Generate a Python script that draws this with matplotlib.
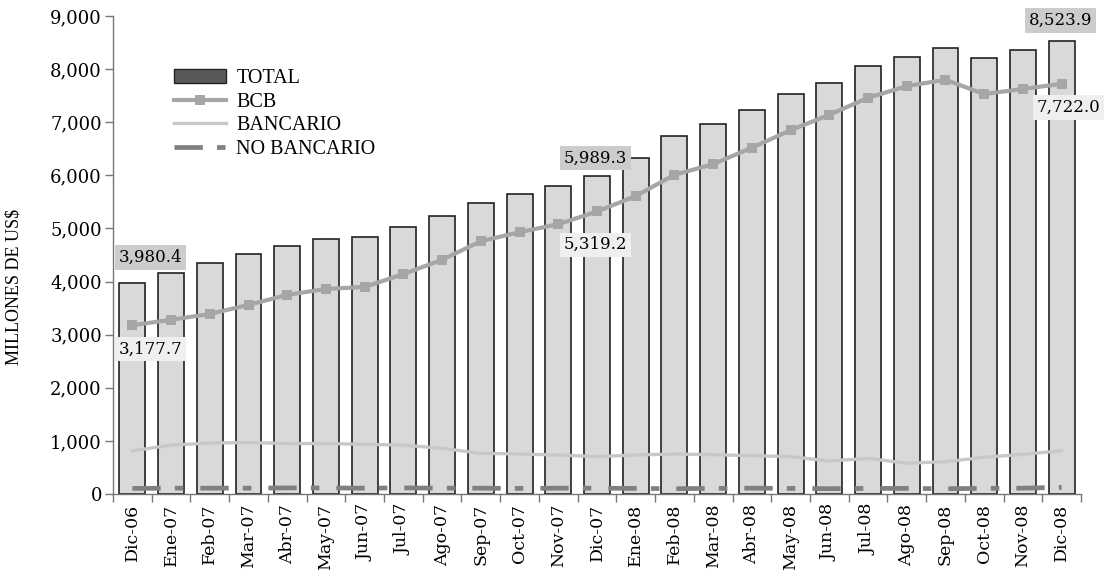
import matplotlib
matplotlib.use("Agg")
import matplotlib.pyplot as plt
from matplotlib.patches import Patch
from matplotlib.lines import Line2D
from matplotlib.ticker import FuncFormatter, FixedLocator
import numpy as np

## Data (millones de US$)
meses = ["Dic-06", "Ene-07", "Feb-07", "Mar-07", "Abr-07", "May-07", "Jun-07",
         "Jul-07", "Ago-07", "Sep-07", "Oct-07", "Nov-07", "Dic-07", "Ene-08",
         "Feb-08", "Mar-08", "Abr-08", "May-08", "Jun-08", "Jul-08", "Ago-08",
         "Sep-08", "Oct-08", "Nov-08", "Dic-08"]

total = [3980.4, 4160, 4350, 4520, 4670, 4800, 4840, 5030, 5235, 5480, 5650, 5800,
         5989.3, 6330, 6740, 6970, 7230, 7530, 7740, 8060, 8230, 8400, 8210, 8360,
         8523.9]
bcb = [3177.7, 3280, 3390, 3560, 3750, 3860, 3900, 4140, 4410, 4760, 4930, 5080,
       5319.2, 5610, 6010, 6210, 6520, 6850, 7140, 7460, 7680, 7800, 7530, 7627,
       7722.0]
bancario = [815, 920, 960, 970, 950, 950, 935, 920, 860, 766, 753, 735,
            703, 735, 753, 740, 722, 703, 621, 672, 578, 609, 691, 747, 815]
no_bancario = [105, 110, 110, 110, 115, 115, 110, 115, 110, 110, 105, 110,
               110, 105, 100, 105, 110, 105, 100, 105, 105, 100, 105, 110, 125]

## Which values get a label
etiquetas_total = [0, 12, 24]
etiquetas_bcb = [0, 12, 24]

plt.rcParams["font.family"] = "DejaVu Serif"
plt.rcParams["font.size"] = 12

fig = plt.figure(figsize=(11.05, 5.72), dpi=100)
ax = fig.add_axes([113 / 1105, 1 - 494 / 572, (1081 - 113) / 1105, (494 - 16) / 572])

x = np.arange(len(meses))

ax.bar(x, total, width=0.67, color="#d9d9d9", edgecolor="#222222", linewidth=1.2, zorder=2)
ax.plot(x, bancario, color="#c8c8c8", linewidth=2.4, zorder=3)
ax.plot(x, no_bancario, color="#808080", linewidth=3.4, dashes=(6, 3, 1.8, 3.6),
        solid_capstyle="butt", dash_capstyle="butt", zorder=3)
ax.plot(x, bcb, color="#a6a6a6", linewidth=3, marker="s", markersize=7,
        markeredgewidth=0, zorder=4)

## Value labels
off_total = {0: (13, 18), 12: (-1, 13), 24: (-1, 15)}
off_bcb = {0: (13, -17), 12: (-1, -24), 24: (5, -17)}
for i in etiquetas_total:
    ax.annotate(f"{total[i]:,.1f}", xy=(x[i], total[i]), xytext=off_total[i],
                textcoords="offset points", ha="center", va="center", fontsize=12,
                bbox=dict(boxstyle="square,pad=0.22", fc="#cccccc", ec="none"), zorder=6)
for i in etiquetas_bcb:
    ax.annotate(f"{bcb[i]:,.1f}", xy=(x[i], bcb[i]), xytext=off_bcb[i],
                textcoords="offset points", ha="center", va="center", fontsize=12,
                bbox=dict(boxstyle="square,pad=0.22", fc="#efefef", ec="none"), zorder=6)

## Axes
ax.set_xlim(-0.5, len(meses) - 0.5)
ax.set_ylim(0, 9000)
ax.set_yticks(np.arange(0, 9001, 1000))
ax.yaxis.set_major_formatter(FuncFormatter(lambda v, p: f"{v:,.0f}"))
ax.set_xticks(x)
ax.set_xticklabels(meses, rotation=90)
ax.xaxis.set_minor_locator(FixedLocator(np.arange(-0.5, len(meses), 1.0)))
ax.tick_params(axis="x", which="major", length=0, pad=7, labelsize=12.5)
ax.tick_params(axis="x", which="minor", length=6, width=1, color="#777777")
ax.tick_params(axis="y", length=6, width=1, color="#777777", labelsize=13, pad=2)

for s in ["top", "right"]:
    ax.spines[s].set_visible(False)
for s in ["left", "bottom"]:
    ax.spines[s].set_color("#777777")
    ax.spines[s].set_linewidth(1)

ax.set_ylabel("MILLONES DE US$", family="Liberation Serif", fontsize=13)
ax.yaxis.set_label_coords(-0.094, 0.433)

## Legend
handles = [
    Patch(facecolor="#595959", edgecolor="#222222", linewidth=1),
    Line2D([], [], color="#a6a6a6", linewidth=3, marker="s", markersize=7, markeredgewidth=0),
    Line2D([], [], color="#c8c8c8", linewidth=2.4),
    Line2D([], [], color="#808080", linewidth=3.4, dashes=(6, 3, 1.8, 3.6)),
]
ax.legend(handles, ["TOTAL", "BCB", "BANCARIO", "NO BANCARIO"], loc="upper left",
          bbox_to_anchor=(0.063, 0.889), frameon=False, borderpad=0, borderaxespad=0,
          handlelength=2.6, handletextpad=0.5, labelspacing=0.22,
          prop={"family": "Liberation Serif", "size": 14.5})

fig.savefig("out.png", dpi=100)
